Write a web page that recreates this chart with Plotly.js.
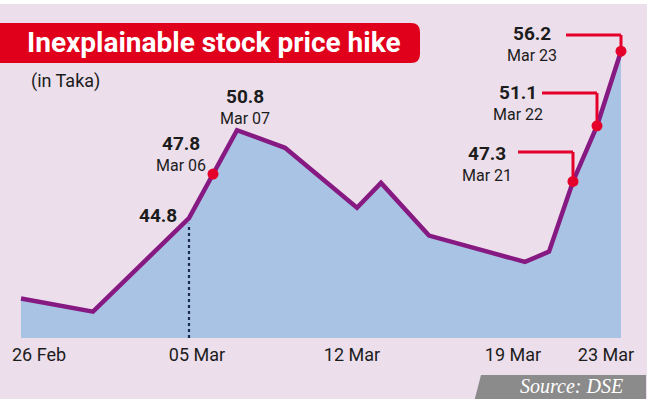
<!DOCTYPE html>
<html><head><meta charset="utf-8">
<script src="https://cdn.plot.ly/plotly-3.0.1.min.js"></script>
<style>html,body{margin:0;padding:0;background:#fff;overflow:hidden}#chart{width:654px;height:399px}</style>
</head><body><div id="chart"></div>
<script>
// ---- data ----
const dates  = ['2023-02-26','2023-03-01','2023-03-05','2023-03-06','2023-03-07','2023-03-09','2023-03-12','2023-03-13','2023-03-15','2023-03-19','2023-03-20','2023-03-21','2023-03-22','2023-03-23'];
const prices = [39.3, 38.4, 44.8, 47.8, 50.8, 49.6, 45.5, 47.2, 43.6, 41.8, 42.5, 47.3, 51.1, 56.2];
const calloutDates  = ['2023-03-06','2023-03-21','2023-03-22','2023-03-23'];
const calloutValues = [47.8, 47.3, 51.1, 56.2];
const calloutLabels = ['Mar 06','Mar 21','Mar 22','Mar 23'];
const peakDate = '2023-03-07', peakValue = 50.8, peakLabel = 'Mar 07';
const markDate = '2023-03-05', markValue = 44.8;
const tickDates  = ['2023-02-26','2023-03-05','2023-03-12','2023-03-19','2023-03-23'];
const tickLabels = ['26 Feb','05 Mar','12 Mar','19 Mar','23 Mar'];
const titleText = 'Inexplainable stock price hike';
const unitText = '(in Taka)';
const sourceText = 'Source: DSE';

// ---- geometry / style ----
const W = 654, H = 399, MT = 0, MB = 61, PH = H - MT - MB;
const DAY = 86400000;
const t0 = Date.UTC(2023,1,26);
const fmt = ms => new Date(ms).toISOString().replace('T',' ').replace('Z','');
const xRange = [fmt(t0 - 21/24*DAY), fmt(t0 + 25*DAY + 33/24*DAY)];
const yRange = [36.6, 59.7];
const PX = px => px / W;
const PY = py => (PH - py) / PH;
const yVal = py => yRange[1] - py / PH * (yRange[1] - yRange[0]);
const shiftDays = (d, days) => fmt(new Date(d).getTime() - days*DAY);

const FONT = 'Roboto, sans-serif';
const BG = '#ecdfeb', FILL = '#a9c3e4', LINE = '#861a82', RED = '#e4002b', TXT = '#1c1c1c';

const traces = [
  {x: dates, y: prices, type: 'scatter', mode: 'lines', fill: 'tozeroy',
   fillcolor: FILL, line: {color: LINE, width: 4.5}, hoverinfo: 'skip'},
  {x: calloutDates, y: calloutValues, type: 'scatter', mode: 'markers',
   marker: {color: RED, size: 11}, cliponaxis: false, hoverinfo: 'skip'}
];

const shapes = [];
// dotted marker line
shapes.push({type: 'line', xref: 'x', yref: 'y', x0: markDate, x1: markDate, y0: yRange[0], y1: markValue - 0.4,
  line: {color: '#1b2a4e', width: 2.2, dash: 'dot'}});
// callout connectors (corner pixel levels from the layout)
const cornerPx = [null, 152, 93, 35];
for (let i = 1; i < calloutDates.length; i++) {
  const cv = yVal(cornerPx[i]);
  shapes.push({type: 'line', xref: 'x', yref: 'y', x0: calloutDates[i], x1: calloutDates[i], y0: calloutValues[i], y1: cv,
    line: {color: RED, width: 3}});
  shapes.push({type: 'line', xref: 'x', yref: 'y', x0: shiftDays(calloutDates[i], 55/24), x1: calloutDates[i], y0: cv, y1: cv,
    line: {color: RED, width: 3}});
}
// title box (rounded right corners)
const r = 9, bx1 = 420, by0 = 23, by1 = 63;
shapes.push({type: 'path', xref: 'paper', yref: 'paper', fillcolor: '#e1001b', line: {width: 0},
  path: `M ${PX(-10)},${PY(by0)} L ${PX(bx1-r)},${PY(by0)} Q ${PX(bx1)},${PY(by0)} ${PX(bx1)},${PY(by0+r)} L ${PX(bx1)},${PY(by1-r)} Q ${PX(bx1)},${PY(by1)} ${PX(bx1-r)},${PY(by1)} L ${PX(-10)},${PY(by1)} Z`});
// source box
shapes.push({type: 'path', xref: 'paper', yref: 'paper', fillcolor: '#8b8b8b', line: {width: 0},
  path: `M ${PX(481)},${PY(375)} L ${PX(646)},${PY(375)} L ${PX(646)},${PY(402)} L ${PX(474)},${PY(402)} Z`});
// white frame strips
shapes.push({type: 'rect', xref: 'paper', yref: 'paper', x0: PX(647), x1: PX(660), y0: PY(402), y1: PY(-5), fillcolor: '#ffffff', line: {width: 0}});
shapes.push({type: 'rect', xref: 'paper', yref: 'paper', x0: PX(-5), x1: PX(660), y0: PY(4), y1: PY(-5), fillcolor: '#ffffff', line: {width: 0}});

const ann = [];
const A = (text, px, py, size, bold, extra) => Object.assign({
  text: bold ? '<b>' + text + '</b>' : text, xref: 'paper', yref: 'paper', x: PX(px), y: PY(py),
  xanchor: 'center', yanchor: 'middle', showarrow: false, borderpad: 0,
  font: {family: FONT, size: size, color: TXT}}, extra || {});
ann.push(A(titleText, 214, 43, 28, true, {font: {family: FONT, size: 28, color: '#ffffff'}}));
ann.push(A(unitText, 30, 81, 18, false, {xanchor: 'left'}));
ann.push(A(String(markValue.toFixed(1)), 158, 215, 19, true));
const calloutPos = [[181,143,165],[487,153,175],[518,93,115],[532,33,55]];
for (let i = 0; i < calloutDates.length; i++) {
  ann.push(A(calloutValues[i].toFixed(1), calloutPos[i][0], calloutPos[i][1], 19, true));
  ann.push(A(calloutLabels[i], calloutPos[i][0], calloutPos[i][2], 16, false));
}
ann.push(A(peakValue.toFixed(1), 245, 96, 19, true));
ann.push(A(peakLabel, 245, 118, 16, false));
ann.push(A(sourceText, 571, 386, 20, false, {font: {family: 'Liberation Serif, serif', size: 20, color: '#ffffff', style: 'italic'}}));

const layout = {
  width: W, height: H, margin: {l: 0, r: 0, t: MT, b: MB, pad: 0},
  paper_bgcolor: BG, plot_bgcolor: BG, showlegend: false,
  xaxis: {type: 'date', range: xRange, showgrid: false, zeroline: false, showline: false, showticklabels: false, ticks: '', fixedrange: true},
  yaxis: {range: yRange, visible: false, fixedrange: true},
  shapes: shapes, annotations: ann
};
const tickShift = [18, 8, -5, -12, -15];
for (let i = 0; i < tickDates.length; i++) {
  const ax = 'xaxis' + (i + 2);
  layout[ax] = {type: 'date', overlaying: 'x', anchor: 'y', range: xRange,
    tickmode: 'array', tickvals: [tickDates[i]], ticktext: [tickLabels[i]], ticklabelshift: tickShift[i],
    ticklabeloverflow: 'allow', ticklabelstandoff: 4,
    showgrid: false, zeroline: false, showline: false, ticks: '', fixedrange: true,
    tickfont: {family: FONT, size: 18, color: TXT}};
  // empty helper trace so the overlay axis carrying this tick label is drawn
  traces.push({x: [tickDates[i]], y: [null], type: 'scatter', mode: 'markers', xaxis: 'x' + (i + 2), yaxis: 'y',
    hoverinfo: 'skip', showlegend: false});
}
Plotly.newPlot('chart', traces, layout, {staticPlot: true, displayModeBar: false});
</script></body></html>
